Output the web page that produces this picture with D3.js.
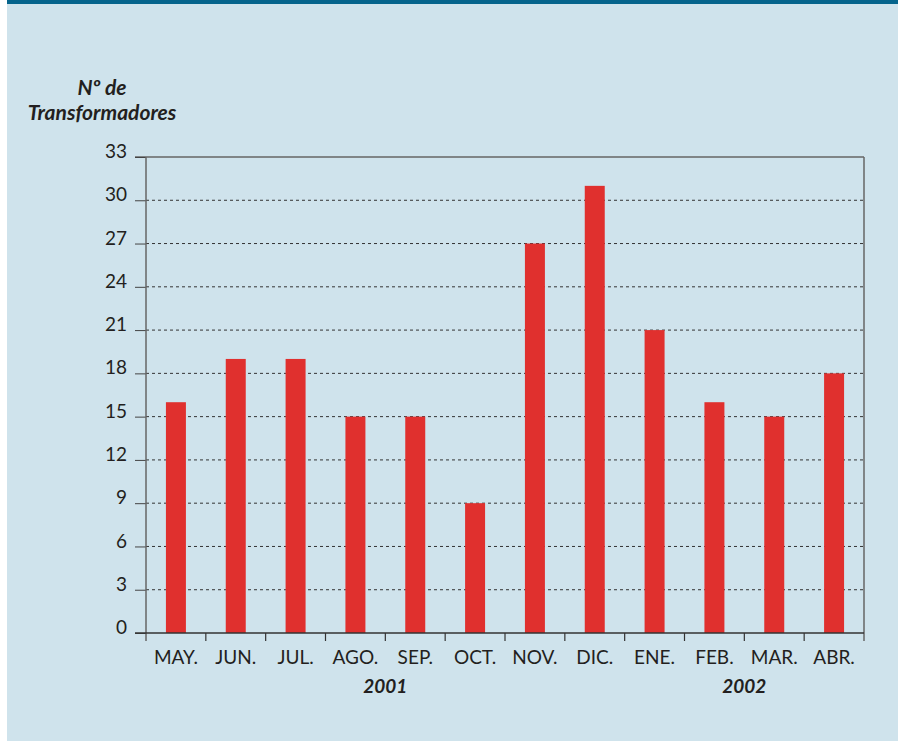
<!DOCTYPE html>
<html>
<head>
<meta charset="utf-8">
<script src="https://cdn.jsdelivr.net/npm/d3@7"></script>
<style>
  body { margin: 0; background: #fff; }
  svg { display: block; }
  text { font-family: Lato, "Open Sans", sans-serif; fill: #231f20; }
</style>
</head>
<body>
<div id="chart"></div>
<script>
// Data
var months = ["MAY.", "JUN.", "JUL.", "AGO.", "SEP.", "OCT.", "NOV.", "DIC.", "ENE.", "FEB.", "MAR.", "ABR."];
var values = [16, 19, 19, 15, 15, 9, 27, 31, 21, 16, 15, 18];
var yTicks = [0, 3, 6, 9, 12, 15, 18, 21, 24, 27, 30, 33];
var years = [{label: "2001", after: "AGO."}, {label: "2002", after: "FEB."}];

var W = 898, H = 741;
var margin = {top: 157, right: 34, bottom: 108, left: 146},
    width = W - margin.left - margin.right,
    height = H - margin.top - margin.bottom;

var svg = d3.select("#chart").append("svg")
    .attr("width", W)
    .attr("height", H);

// Background panel
svg.append("rect").attr("x", 7).attr("y", 0).attr("width", W - 7).attr("height", H).attr("fill", "#cfe3ec");
svg.append("rect").attr("x", 7).attr("y", 0).attr("width", W - 7).attr("height", 4).attr("fill", "#05648c");

var g = svg.append("g").attr("transform", `translate(${margin.left},${margin.top})`);

var x = d3.scaleBand().domain(months).range([0, width]).paddingInner(0.666).paddingOuter(0.333);
var xb = d3.scaleBand().domain(months).range([0, width]);
var y = d3.scaleLinear().domain([0, 33]).range([height, 0]);

// Grid lines
g.selectAll(".grid")
    .data(yTicks.filter(d => d > 0 && d < 33))
  .enter().append("line")
    .attr("x1", 0).attr("x2", width)
    .attr("y1", d => y(d)).attr("y2", d => y(d))
    .attr("stroke", "#333").attr("stroke-width", 1)
    .attr("stroke-dasharray", "3,3");

// Bars
g.selectAll(".bar")
    .data(values)
  .enter().append("rect")
    .attr("x", (d, i) => x(months[i]))
    .attr("width", x.bandwidth())
    .attr("y", d => y(d))
    .attr("height", d => height - y(d))
    .attr("fill", "#e0302e");

// Top line
g.append("line").attr("x1", -11).attr("x2", width).attr("y1", 0).attr("y2", 0)
    .attr("stroke", "#666").attr("stroke-width", 1.5);

// Y axis
var yAxis = g.append("g")
    .call(d3.axisLeft(y).tickValues(yTicks).tickSize(11).tickPadding(8).tickFormat(d3.format("d")));
yAxis.select(".domain").remove();
yAxis.selectAll("line").attr("stroke", "#444");
yAxis.selectAll("text").style("font-size", "19px").attr("dy", "0.03em").attr("fill", "#231f20");

// Left and right verticals
g.append("line").attr("x1", 0).attr("x2", 0).attr("y1", 0).attr("y2", height + 8)
    .attr("stroke", "#666").attr("stroke-width", 1.5);
g.append("line").attr("x1", width).attr("x2", width).attr("y1", 0).attr("y2", height + 8)
    .attr("stroke", "#666").attr("stroke-width", 1.5);

// Bottom axis
g.append("line").attr("x1", -11).attr("x2", width).attr("y1", height).attr("y2", height)
    .attr("stroke", "#333").attr("stroke-width", 1.5);
g.selectAll(".xtick")
    .data(months.slice(1))
  .enter().append("line")
    .attr("x1", d => xb(d)).attr("x2", d => xb(d))
    .attr("y1", height).attr("y2", height + 8)
    .attr("stroke", "#333").attr("stroke-width", 1.2);

g.selectAll(".xlabel")
    .data(months)
  .enter().append("text")
    .attr("x", d => xb(d) + xb.bandwidth() / 2)
    .attr("y", height + 31)
    .attr("text-anchor", "middle")
    .style("font-size", "19px")
    .text(d => d);

g.selectAll(".year")
    .data(years)
  .enter().append("text")
    .attr("x", d => xb(d.after) + xb.bandwidth())
    .attr("y", height + 60)
    .attr("text-anchor", "middle")
    .style("font-size", "19px")
    .style("font-weight", "bold")
    .style("font-style", "italic")
    .text(d => d.label);

// Axis title
var title = svg.append("text")
    .attr("text-anchor", "middle")
    .style("font-size", "21px")
    .style("font-weight", "bold")
    .style("font-style", "italic");
title.append("tspan").attr("x", 102).attr("y", 95).text("Nº de");
title.append("tspan").attr("x", 102).attr("y", 120).text("Transformadores");
</script>
</body>
</html>
